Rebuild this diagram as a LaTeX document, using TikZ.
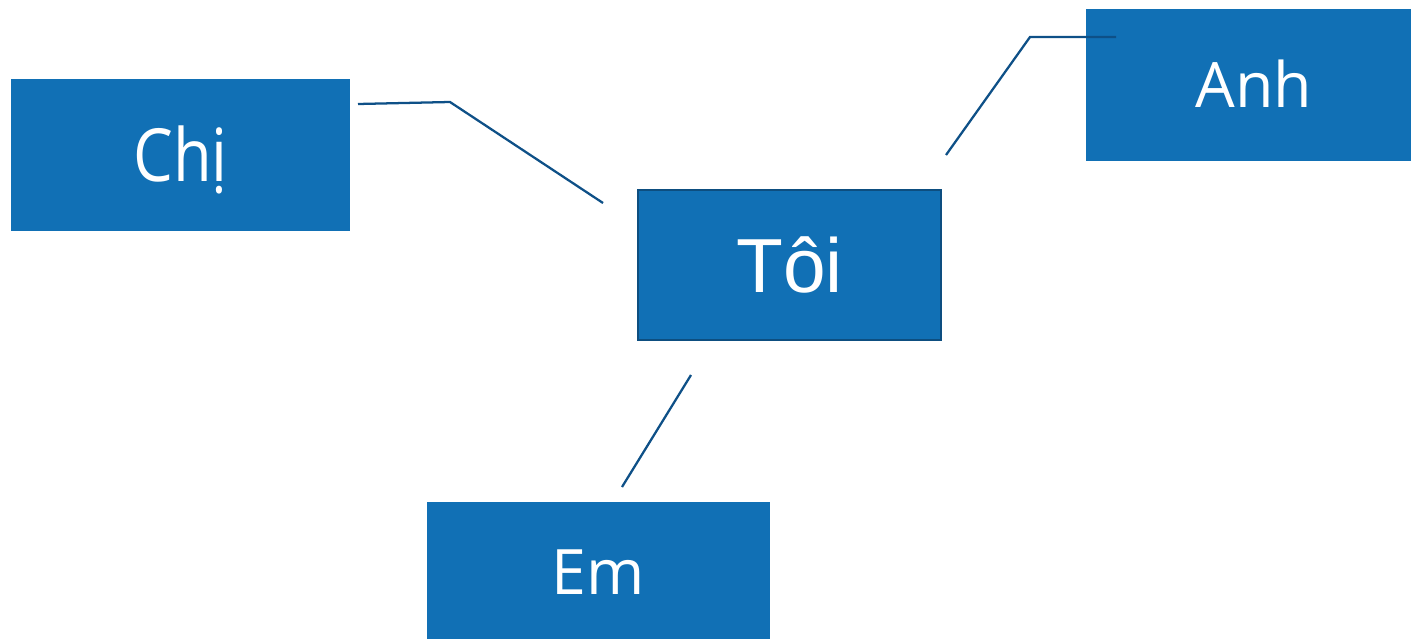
\documentclass[tikz,border=0pt]{standalone}
\usepackage{fontspec}
\setmainfont{Open Sans}
\newfontfamily\arialf{Liberation Sans}
\definecolor{boxblue}{RGB}{17,112,181}
\definecolor{edgeblue}{RGB}{13,78,128}
\definecolor{lineblue}{RGB}{14,80,135}
\begin{document}
\begin{tikzpicture}[x=0.75pt,y=-0.75pt,
  box/.style={rectangle,fill=boxblue,text=white,inner sep=0pt,minimum height=114pt,text depth=0pt},
  conn/.style={draw=lineblue,line width=1.7pt,line join=miter}]
\useasboundingbox (0,0) rectangle (1411,639);
% boxes
\node[box,minimum width=254.25pt,text height=39pt] (chi) at (180.5,155)
  {\fontsize{55}{60}\selectfont\scalebox{0.86}[1]{Chị}};
\node[box,minimum width=227.5pt,minimum height=112.75pt,draw=edgeblue,line width=1.4pt,text height=40.5pt] (toi) at (789.5,265)
  {\arialf\fontsize{57.5}{62}\selectfont Tôi};
\node[box,minimum width=243.75pt,text height=33pt] (anh) at (1248.5,85)
  {\fontsize{47}{52}\selectfont\hspace{8pt}Anh};
\node[box,minimum width=257.25pt,minimum height=102.75pt,text height=35.25pt] (em) at (598.5,570.5)
  {\fontsize{47}{52}\selectfont Em};
% connector ends
\coordinate (chiA) at (358,104);
\coordinate (chiB) at (450,102);
\coordinate (toiA) at (603,203);
\coordinate (toiB) at (946,155);
\coordinate (anhB) at (1030,37);
\coordinate (anhA) at (1116,37);
\coordinate (toiC) at (691,375);
\coordinate (emA) at (622,487);
% connectors
\draw[conn] (chiA) -- (chiB) -- (toiA);
\draw[conn] (toiB) -- (anhB) -- (anhA);
\draw[conn] (toiC) -- (emA);
\end{tikzpicture}
\end{document}
